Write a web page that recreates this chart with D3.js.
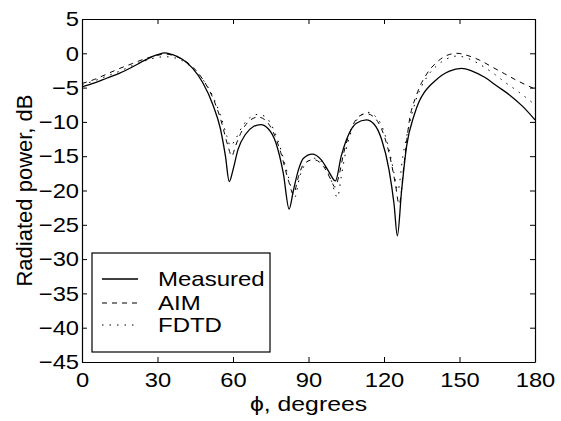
<!DOCTYPE html>
<html><head><meta charset="utf-8">
<script src="https://cdn.jsdelivr.net/npm/d3@7"></script>
<style>body{margin:0;background:#fff}svg{display:block}text{font-family:"Liberation Sans",Arial,sans-serif;fill:#000}
.sm{transform-box:fill-box;transform-origin:center;transform:scaleX(1.13)}
.se{transform-box:fill-box;transform-origin:right center;transform:scaleX(1.13)}
.ss{transform-box:fill-box;transform-origin:left center;transform:scaleX(1.2)}
.sx{transform-box:fill-box;transform-origin:center;transform:scaleX(1.18)}
</style>
</head><body><svg id="c" width="561" height="421"></svg>
<script>
const xTicks = [0, 30, 60, 90, 120, 150, 180];
const yTicks = [-45, -40, -35, -30, -25, -20, -15, -10, -5, 0, 5];
const seriesNames = ["Measured", "AIM", "FDTD"];

const measuredPhi = [0,5,10,15,20,25,30,33,36,40,44,48,52,55,57,58.5,60,62,65,68,71,74,77,80,82.3,84,86,88,91.5,95,98,100.7,103,106,109,113,116,119,122,124,125.3,127,129,132,134,136,138,140,143,146,150.8,155,160,165,170,175,180];
const measuredDb  = [-4.9,-4.3,-3.6,-2.9,-2.0,-1.0,-0.2,0.05,-0.2,-0.9,-2.2,-4.3,-7.5,-11,-15,-18.7,-17,-14,-11.8,-10.7,-10.4,-11,-13,-17.5,-22.7,-20,-17,-15.3,-14.7,-15.5,-17.2,-18.6,-15,-11.8,-10.2,-9.7,-10.3,-12.5,-17,-22,-26.6,-20,-13.5,-9.0,-7.0,-5.7,-4.8,-4.1,-3.2,-2.6,-2.2,-2.6,-3.5,-4.8,-6.1,-7.7,-9.7];

const aimPhi = [0,5,10,15,20,25,30,33,36,40,44,48,52,55,58,59.5,61,64,67,70,73,76,79,82,84,86,88,92,96,99,100.5,102,104,107,110,113,116,119,122,124.5,126,128,130,133,137,141,145,149,153,158,163,168,173,180];
const aimDb  = [-4.4,-3.8,-3.0,-2.2,-1.5,-0.8,-0.3,-0.1,-0.3,-0.9,-2.0,-3.8,-6.5,-9.5,-13.5,-15,-13.5,-11,-9.7,-9.3,-9.8,-11.5,-14.5,-18.5,-20.5,-18,-16.2,-15.5,-16.5,-18.5,-19.5,-18,-14.5,-11,-9.2,-8.8,-9.3,-11,-14.5,-19,-22,-16,-10,-6,-3,-1.3,-0.3,0,-0.3,-1,-2,-3,-4,-5.2];

const fdtdPhi = [0,5,10,15,20,25,30,33,36,40,44,48,52,55,57.5,59,61,64,67,70,73,76,79,82,84.5,86.5,89,92.5,96,99,101.5,103,105,108,111,113.5,116,119,122,124,125.5,127.5,130,133,137,141,145,149,153,158,163,168,173,180];
const fdtdDb  = [-4.6,-4.0,-3.3,-2.6,-1.8,-1.1,-0.6,-0.5,-0.6,-1.1,-2.2,-3.8,-6.3,-9,-12,-13.5,-12.5,-10.5,-9.3,-8.9,-9.3,-11,-14,-18,-21,-18,-16,-15.3,-16.2,-18.5,-21,-18,-14,-10.5,-9,-8.6,-9,-10.5,-14,-17.5,-20,-15,-10.5,-6.5,-3.5,-1.8,-0.8,-0.4,-0.7,-1.6,-2.8,-4.2,-5.5,-7.5];

const svg = d3.select("#c");
const L = 82, R = 535, T = 19, B = 362;
const x = d3.scaleLinear().domain([0, 180]).range([L, R]);
const y = d3.scaleLinear().domain([-45, 5]).range([B, T]);
const fs = 21;

const g = svg.append("g");
const series = [
  {name: seriesNames[0], phi: measuredPhi, db: measuredDb, dash: null, w: 1.3},
  {name: seriesNames[1], phi: aimPhi, db: aimDb, dash: "5,5", w: 1},
  {name: seriesNames[2], phi: fdtdPhi, db: fdtdDb, dash: "1.5,6", w: 1}
];
const line = d3.line().x(d => x(d[0])).y(d => y(d[1])).curve(d3.curveMonotoneX);
series.forEach(s => {
  g.append("path").attr("d", line(s.phi.map((p, i) => [p, s.db[i]])))
    .attr("fill", "none").attr("stroke", "#000").attr("stroke-width", s.w)
    .attr("stroke-dasharray", s.dash);
});

// axes
const fmt = d => (d < 0 ? "\u2212" + Math.abs(d) : String(d));
const xb = svg.append("g").attr("transform", `translate(0,${B})`)
  .call(d3.axisBottom(x).tickValues(xTicks).tickSizeInner(-5).tickSizeOuter(0).tickPadding(10).tickFormat(fmt));
const xt = svg.append("g").attr("transform", `translate(0,${T})`)
  .call(d3.axisTop(x).tickValues(xTicks).tickSizeInner(-5).tickSizeOuter(0).tickFormat(""));
const yl = svg.append("g").attr("transform", `translate(${L},0)`)
  .call(d3.axisLeft(y).tickValues(yTicks).tickSizeInner(-5).tickSizeOuter(0).tickPadding(3).tickFormat(fmt));
const yr = svg.append("g").attr("transform", `translate(${R},0)`)
  .call(d3.axisRight(y).tickValues(yTicks).tickSizeInner(-5).tickSizeOuter(0).tickFormat(""));
[xb, xt, yl, yr].forEach(a => {
  a.selectAll("path.domain").attr("stroke", "#000").attr("stroke-width", 1.2);
  a.selectAll("line").attr("stroke", "#000");
  a.selectAll("text").style("font-size", fs + "px").attr("fill", "#000");
});
xb.selectAll("text").attr("dy", "0.7em").attr("class", "sm");
yl.selectAll("text").attr("class", "se");

// axis labels
svg.append("text").attr("x", (L + R) / 2).attr("y", 411).attr("text-anchor", "middle")
  .attr("class", "sx").style("font-size", "21px").text("\u03D5, degrees");
svg.append("text").attr("transform", `translate(32,${(T + B) / 2}) rotate(-90)`)
  .attr("text-anchor", "middle").style("font-size", "22px").text("Radiated power, dB");

// legend
const lg = svg.append("g");
lg.append("rect").attr("x", 92).attr("y", 253).attr("width", 178).attr("height", 99)
  .attr("fill", "#fff").attr("stroke", "#000").attr("stroke-width", 1.2);
const rows = [279, 303, 325];
series.forEach((s, i) => {
  lg.append("line").attr("x1", 102).attr("x2", 138).attr("y1", rows[i]).attr("y2", rows[i])
    .attr("stroke", "#000").attr("stroke-width", s.w).attr("stroke-dasharray", s.dash);
  lg.append("text").attr("x", 158).attr("y", rows[i]).attr("dy", "0.36em").attr("class", "ss")
    .style("font-size", "20px").text(s.name);
});
</script></body></html>
